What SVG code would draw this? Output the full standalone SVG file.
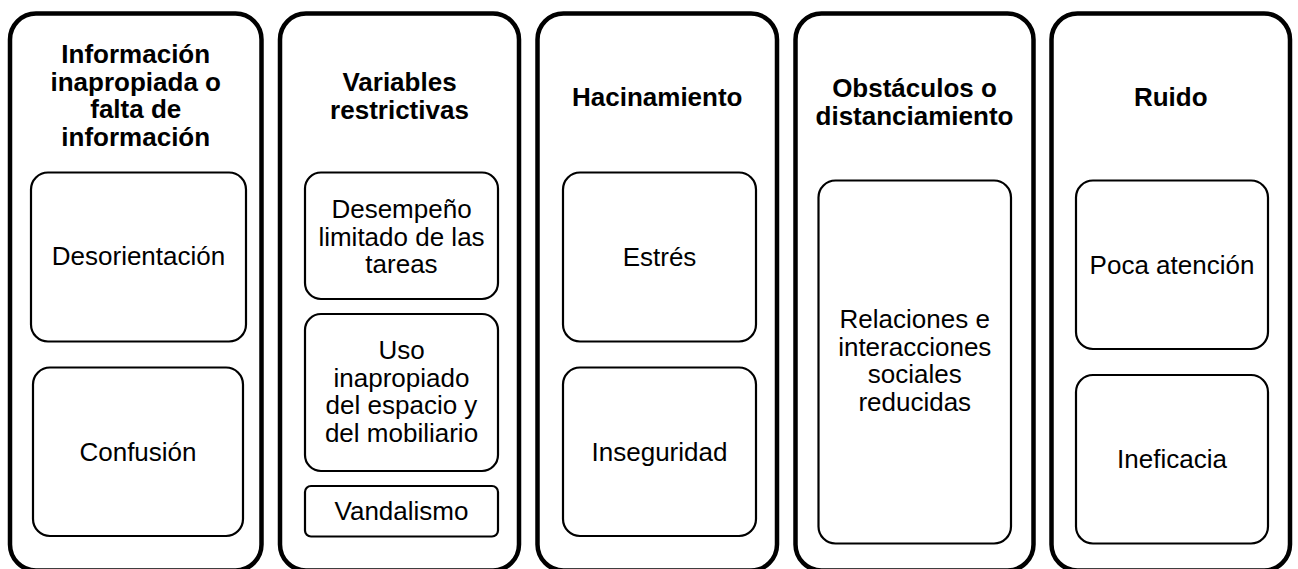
<svg xmlns="http://www.w3.org/2000/svg" width="1298" height="569" viewBox="0 0 1298 569">
<style>
.outer{fill:#fff;stroke:#000;stroke-width:4.5}
.inner{fill:#fff;stroke:#000;stroke-width:2.2}
.t{font-family:"Liberation Sans",Arial,sans-serif;font-size:26px;fill:#000;text-anchor:middle}
.b{font-weight:bold}
</style>
<rect width="1298" height="569" fill="#fff"/>
<g id="connectors"/>
<g id="col1">
<rect class="outer" x="10" y="13.5" width="251.5" height="557" rx="26"/>
<text class="t b" x="135.75"><tspan x="135.75" y="63">Información</tspan><tspan x="135.75" y="90.5">inapropiada o</tspan><tspan x="135.75" y="118">falta de</tspan><tspan x="135.75" y="145.5">información</tspan></text>
</g>
<g id="desorientacion">
<rect class="inner" x="31" y="172.5" width="215" height="169" rx="17"/>
<text class="t" x="138.5" y="265">Desorientación</text>
</g>
<g id="confusion">
<rect class="inner" x="33" y="367.5" width="210" height="168.5" rx="17"/>
<text class="t" x="138" y="461">Confusión</text>
</g>
<g id="col2">
<rect class="outer" x="280" y="13.5" width="239" height="557" rx="26"/>
<text class="t b"><tspan x="399.5" y="91">Variables</tspan><tspan x="399.5" y="118.5">restrictivas</tspan></text>
</g>
<g id="desempeno">
<rect class="inner" x="305" y="172.5" width="193" height="126.5" rx="16"/>
<text class="t"><tspan x="401.5" y="218">Desempeño</tspan><tspan x="401.5" y="245.5">limitado de las</tspan><tspan x="401.5" y="273">tareas</tspan></text>
</g>
<g id="uso">
<rect class="inner" x="305" y="314" width="193" height="157" rx="16"/>
<text class="t"><tspan x="401.5" y="359">Uso</tspan><tspan x="401.5" y="386.5">inapropiado</tspan><tspan x="401.5" y="414">del espacio y</tspan><tspan x="401.5" y="441.5">del mobiliario</tspan></text>
</g>
<g id="vandalismo">
<rect class="inner" x="305" y="486" width="193" height="50.5" rx="6"/>
<text class="t" x="401.5" y="520">Vandalismo</text>
</g>
<g id="col3">
<rect class="outer" x="537.5" y="13.5" width="239.5" height="557" rx="26"/>
<text class="t b" x="657.25" y="106">Hacinamiento</text>
</g>
<g id="estres">
<rect class="inner" x="563" y="172.5" width="193" height="169" rx="17"/>
<text class="t" x="659.5" y="265.5">Estrés</text>
</g>
<g id="inseguridad">
<rect class="inner" x="563" y="367.5" width="193" height="168.5" rx="17"/>
<text class="t" x="659.5" y="461">Inseguridad</text>
</g>
<g id="col4">
<rect class="outer" x="795.5" y="13.5" width="238" height="557" rx="26"/>
<text class="t b"><tspan x="914.5" y="97">Obstáculos o</tspan><tspan x="914.5" y="124.5">distanciamiento</tspan></text>
</g>
<g id="relaciones">
<rect class="inner" x="818.5" y="180.5" width="192.5" height="363" rx="17"/>
<text class="t"><tspan x="914.75" y="328">Relaciones e</tspan><tspan x="914.75" y="355.5">interacciones</tspan><tspan x="914.75" y="383">sociales</tspan><tspan x="914.75" y="410.5">reducidas</tspan></text>
</g>
<g id="col5">
<rect class="outer" x="1051.5" y="13.5" width="238.5" height="557" rx="26"/>
<text class="t b" x="1170.75" y="106">Ruido</text>
</g>
<g id="poca">
<rect class="inner" x="1076" y="180.5" width="192" height="168.5" rx="17"/>
<text class="t" x="1172" y="273.5">Poca atención</text>
</g>
<g id="ineficacia">
<rect class="inner" x="1076" y="375" width="192" height="168.5" rx="17"/>
<text class="t" x="1172" y="467.5">Ineficacia</text>
</g>
</svg>
